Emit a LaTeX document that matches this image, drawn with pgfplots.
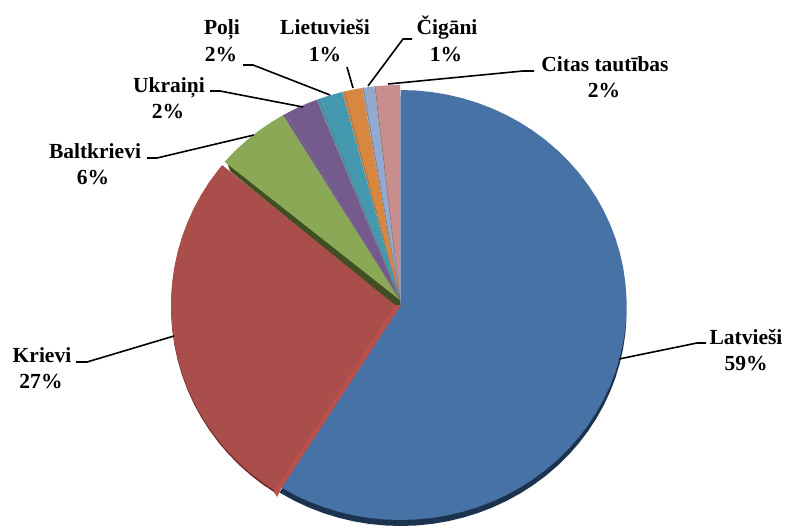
\documentclass[border=0pt]{standalone}
\usepackage{pgfplots}
\usepackage{pgfplotstable}
\usepackage{fontspec}
\setmainfont{Liberation Serif}
\pgfplotsset{compat=1.18}
\definecolor{cblue}{HTML}{4772A5}
\definecolor{cbluerim}{HTML}{1C3350}
\definecolor{cred}{HTML}{A94E4B}
\definecolor{credrim}{HTML}{6E2A28}
\definecolor{credside}{HTML}{B9504C}
\definecolor{cgreen}{HTML}{8AA856}
\definecolor{cgreenrim}{HTML}{3F4F22}
\definecolor{cpurple}{HTML}{745A8D}
\definecolor{cteal}{HTML}{4599AE}
\definecolor{corange}{HTML}{D7873F}
\definecolor{clight}{HTML}{93A9CF}
\definecolor{cpink}{HTML}{C78E8D}
% slice: colour, cx, cy, rx, ry, table with rows "angle radius" (clockwise from the top)
\newcommand{\slice}[6]{\addplot[fill=#1,draw=none,forget plot] table[
  x expr={#2+#4*\thisrowno{1}*sin(\thisrowno{0})},
  y expr={#3-#5*\thisrowno{1}*cos(\thisrowno{0})}] {#6} --cycle;}
\newcommand{\leader}[1]{\addplot[black,line width=1.6pt,forget plot] coordinates {#1};}
\newcommand{\lab}[5]{\node[anchor=base,font=\fontsize{21.5}{24}\selectfont\bfseries] at (axis cs:#1,#2) {#3};
  \node[anchor=base,font=\fontsize{21.5}{24}\selectfont\bfseries] at (axis cs:#4,#2+26) {#5};}
\pgfplotstableread[row sep=\\,header=false]{0 0\\0 1\\4 1\\8 1\\12 1\\16 1\\20 1\\24 1\\28 1\\32 1\\36 1\\40 1\\44 1\\48 1\\52 1\\56 1\\60 1\\64 1\\68 1\\72 1\\76 1\\80 1\\84 1\\88 1\\92 1\\96 1\\100 1\\104 1\\108 1\\112 1\\116 1\\120 1\\124 1\\128 1\\132 1\\136 1\\140 1\\144 1\\148 1\\152 1\\156 1\\160 1\\164 1\\168 1\\172 1\\176 1\\180 1\\184 1\\188 1\\192 1\\196 1\\200 1\\204 1\\208 1\\212.4 1\\}\bluerows
\pgfplotstableread[row sep=\\,header=false]{0 0\\212 1\\216 1\\220 1\\224 1\\228 1\\232 1\\236 1\\240 1\\244 1\\248 1\\252 1\\256 1\\260 1\\264 1\\268 1\\272 1\\276 1\\280 1\\284 1\\288 1\\292 1\\296 1\\300 1\\304 1\\308 1\\309.5 1\\}\redrows
\pgfplotstableread[row sep=\\,header=false]{0 0\\310 1\\314 1\\318 1\\322 1\\326 1\\329.3 1\\}\greenrows
\pgfplotstableread[row sep=\\,header=false]{0 0\\329.3 1\\333 1\\336 1\\338.7 1\\}\purplerows
\pgfplotstableread[row sep=\\,header=false]{0 0\\338.7 1\\342 1\\345.4 1\\}\tealrows
\pgfplotstableread[row sep=\\,header=false]{0 0\\345.4 1\\348 1\\350.5 1\\}\orangerows
\pgfplotstableread[row sep=\\,header=false]{0 0\\350.5 1\\353.6 1\\}\lightrows
\pgfplotstableread[row sep=\\,header=false]{0 0\\353.6 1\\357 1\\360 1\\}\pinkrows
\begin{document}
\begin{tikzpicture}
\begin{axis}[scale only axis,width=786pt,height=527pt,xmin=0,xmax=786,ymin=0,ymax=527,
  y dir=reverse,hide axis,clip=false]
% rims behind the slices
\slice{cbluerim}{400.6}{311}{226}{215}{\bluerows}
\slice{credrim}{395}{307}{224}{220}{\redrows}
\addplot[fill=cgreenrim,draw=none,forget plot] coordinates {(227,162) (400,300) (401,307) (394,306) (230,171)} --cycle;
% slices
\slice{cblue}{400.6}{305}{226}{215}{\bluerows}
\slice{cred}{395}{305}{224}{220}{\redrows}
\addplot[fill=credside,draw=none,forget plot] coordinates {(401,305) (281,489) (277,497) (274,492) (395,305)} --cycle;
\slice{cgreen}{400}{300}{229}{215}{\greenrows}
\slice{cpurple}{400}{300}{229}{215}{\purplerows}
\slice{cteal}{400}{300}{229}{215}{\tealrows}
\slice{corange}{400}{300}{229}{215}{\orangerows}
\slice{clight}{400}{300}{229}{215}{\lightrows}
\slice{cpink}{400}{300}{229}{215}{\pinkrows}
% dark seams between the small slices
\addplot[black!55,line width=.5pt,forget plot] coordinates {(287,116) (400,300)};
\addplot[black!55,line width=.5pt,forget plot] coordinates {(319,100) (400,300)};
\addplot[black!55,line width=.5pt,forget plot] coordinates {(344,92) (400,300)};
\addplot[black!55,line width=.5pt,forget plot] coordinates {(363,87) (400,300)};
\addplot[black!55,line width=.5pt,forget plot] coordinates {(375,86) (400,300)};
% leader lines
\leader{(619,359) (697,343) (706,343)}
\leader{(76,362) (87,362) (174,336)}
\leader{(147,158) (157,158) (254,135)}
\leader{(210,91) (220,91) (303,107)}
\leader{(243,65) (253,65) (330,95)}
\leader{(347,67) (353,88)}
\leader{(412,39) (403,39) (368,86)}
\leader{(534,71) (523,71) (388,84)}
% labels
\lab{746}{344}{Latvieši}{746}{59\%}
\lab{42}{362}{Krievi}{41}{27\%}
\lab{95}{158}{Baltkrievi}{93}{6\%}
\lab{169}{92}{Ukraiņi}{168}{2\%}
\lab{222}{35}{Poļi}{221}{2\%}
\lab{325}{35}{Lietuvieši}{325}{1\%}
\lab{447}{35}{Čigāni}{446}{1\%}
\lab{605}{71}{Citas tautības}{604}{2\%}
\end{axis}
\useasboundingbox (current axis.south west) rectangle (current axis.north east);
\end{tikzpicture}
\end{document}
